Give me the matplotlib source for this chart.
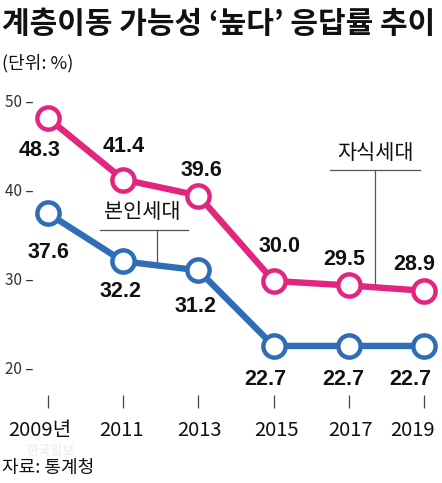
import matplotlib
matplotlib.use("Agg")
import matplotlib.pyplot as plt
from matplotlib import font_manager as fm

years = [2009, 2011, 2013, 2015, 2017, 2019]
year_labels = ["2009년", "2011", "2013", "2015", "2017", "2019"]
child_gen = [48.3, 41.4, 39.6, 30.0, 29.5, 28.9]   # 자식세대
self_gen = [37.6, 32.2, 31.2, 22.7, 22.7, 22.7]    # 본인세대
y_ticks = [20, 30, 40, 50]

PINK = "#e2267f"
BLUE = "#2f6db5"
KR = "Noto Sans CJK KR"
avail = {f.name for f in fm.fontManager.ttflist}
NUM = "Liberation Sans Narrow" if "Liberation Sans Narrow" in avail else "Liberation Sans"

W, H = 442, 483
fig = plt.figure(figsize=(W / 100, H / 100), dpi=100)
ax = fig.add_axes([0, 0, 1, 1])
ax.set_xlim(2007.723, 2019.479)
ax.set_ylim(7.30, 61.57)
ax.axis("off")

lw = 4.6
ax.plot(years, child_gen, color=PINK, lw=lw, marker="o", ms=16,
        mfc="white", mec=PINK, mew=3.2, zorder=3)
ax.plot(years, self_gen, color=BLUE, lw=lw, marker="o", ms=16,
        mfc="white", mec=BLUE, mew=3.2, zorder=3)

# value labels (offsets in points)
child_off = [(-6, -23), (0, 24), (2, 18), (4, 25), (-3, 19), (-7, 19)]
self_off = [(0, -28), (-2, -22), (-2, -26), (-6, -24), (-4, -24), (-10, -24)]
for x, v, (dx, dy) in zip(years, child_gen, child_off):
    ax.annotate(f"{v:.1f}", (x, v), xytext=(dx, dy), textcoords="offset points",
                ha="center", va="center", fontsize=15.5, fontweight="bold",
                family=NUM, color="#111111")
for x, v, (dx, dy) in zip(years, self_gen, self_off):
    ax.annotate(f"{v:.1f}", (x, v), xytext=(dx, dy), textcoords="offset points",
                ha="center", va="center", fontsize=15.5, fontweight="bold",
                family=NUM, color="#111111")

# y tick labels with dash
for t in y_ticks:
    ax.text(2007.85, t, f"{t} –", ha="left", va="center", fontsize=11,
            family=[KR], color="#333333")

# x ticks & labels
ax.vlines(years, 15.73, 17.19, color="#444444", lw=0.9)
label_dx = [-6, -1, 1, 2, 1, -8]   # offsets in points
for x, lab, dx in zip(years, year_labels, label_dx):
    ax.annotate(lab, (x, 13.2), xytext=(dx, 0), textcoords="offset points",
                ha="center", va="center", fontsize=14.5,
                family=[KR], color="#111111", fontweight="light")

# leader annotations
ax.plot([2010.38, 2012.72], [35.73, 35.73], color="#555555", lw=0.9)
ax.plot([2011.9, 2011.9], [35.73, 31.8], color="#555555", lw=0.9)
ax.text(2011.5, 37.7, "본인세대", ha="center", va="center", fontsize=15,
        family=[KR], color="#111111")
ax.plot([2016.5, 2018.89], [42.47, 42.47], color="#555555", lw=0.9)
ax.plot([2017.7, 2017.7], [42.47, 29.3], color="#555555", lw=0.9, zorder=2)
ax.text(2017.7, 44.4, "자식세대", ha="center", va="center", fontsize=15,
        family=[KR], color="#111111")

# titles
fig.text(0.005, 1 - 24 / H, "계층이동 가능성 ‘높다’ 응답률 추이", ha="left",
         va="center", fontsize=21.6, fontweight="bold", family=[KR, "DejaVu Sans"],
         color="#111111")
fig.text(0.005, 1 - 63 / H, "(단위: %)", ha="left", va="center", fontsize=13,
         family=[KR], color="#111111")
fig.text(0.005, 1 - 468 / H, "자료: 통계청", ha="left", va="center", fontsize=13,
         family=[KR], color="#111111")
fig.text(26 / W, 1 - 451 / H, "한국일보", ha="left", va="center", fontsize=9.5,
         fontweight="bold", family=[KR], color="#f0f0f0", zorder=0)

fig.savefig("out.png", dpi=100)
